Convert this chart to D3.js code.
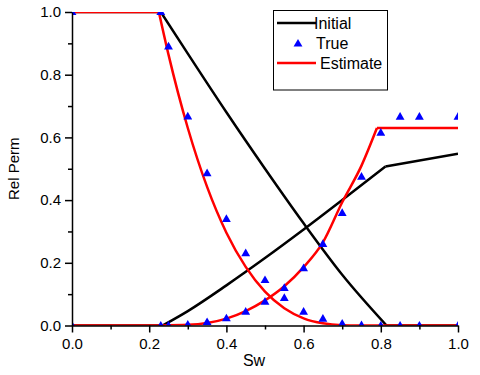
<!DOCTYPE html>
<html lang="en">
<head>
    <meta charset="UTF-8">
    <title>Rel Perm vs Sw</title>
    <script src="https://d3js.org/d3.v7.min.js"></script>
    <style>
        body { margin: 0; background: #fff; }
        svg { display: block; font-family: "Liberation Sans", Arial, sans-serif; }
        .axis path, .axis line { stroke: #000; stroke-width: 1.5px; }
        .axis text { font-family: "Liberation Sans", Arial, sans-serif; font-size: 15px; fill: #000; }
        .curve { fill: none; stroke-width: 2.5px; stroke-linejoin: round; }
        .legend text { font-size: 16px; }
    </style>
</head>
<body>
    <svg width="480" height="375"></svg>

    <script>
        // saturation grid of the "True" points
        var swTrue  = [0, 0.23, 0.25, 0.3, 0.35, 0.4, 0.45, 0.5, 0.55, 0.6, 0.65, 0.7, 0.75, 0.8, 0.85, 0.9, 1.0];
        var kroTrue = [1.0, 1.0, 0.89, 0.667, 0.486, 0.34, 0.231, 0.145, 0.088, 0.044, 0.022, 0.006, 0.001, 0, 0, 0, 0];
        var krwTrue = [0, 0, 0, 0.003, 0.011, 0.023, 0.044, 0.076, 0.12, 0.183, 0.26, 0.359, 0.475, 0.615, 0.666, 0.666, 0.666];

        // initial guess curves
        var swKroInit = [0, 0.23, 0.3, 0.4, 0.5, 0.6, 0.7, 0.815, 1.0];
        var kroInit   = [1.0, 1.0, 0.867, 0.68, 0.50, 0.326, 0.162, 0, 0];
        var swKrwInit = [0, 0.235, 0.3, 0.4, 0.5, 0.6, 0.7, 0.812, 1.0];
        var krwInit   = [0, 0, 0.046, 0.128, 0.215, 0.306, 0.40, 0.507, 0.548];

        // estimated curves
        var swKroEst = [0, 0.225, 0.25, 0.3, 0.35, 0.4, 0.45, 0.5, 0.55, 0.6, 0.65, 0.7, 0.75, 1.0];
        var kroEst   = [1.0, 1.0, 0.864, 0.63, 0.442, 0.296, 0.187, 0.108, 0.055, 0.023, 0.007, 0.001, 0, 0];
        var swKrwEst = [0, 0.23, 0.3, 0.35, 0.4, 0.45, 0.5, 0.55, 0.6, 0.65, 0.7, 0.75, 0.79, 1.0];
        var krwEst   = [0, 0, 0.002, 0.008, 0.022, 0.046, 0.08, 0.125, 0.186, 0.265, 0.393, 0.51, 0.63, 0.63];

        // kinks (endpoint saturations) where the curves are not smooth
        var kroInitKinks = [0.23, 0.815];
        var krwInitKinks = [0.235, 0.812];
        var kroEstKinks  = [0.225, 0.75];
        var krwEstKinks  = [0.23, 0.79];

        var xTicks = [0, 0.2, 0.4, 0.6, 0.8, 1.0];
        var yTicks = [0, 0.2, 0.4, 0.6, 0.8, 1.0];
        var minorTicks = [0.1, 0.3, 0.5, 0.7, 0.9];

        var plotLeft = 72, plotRight = 458, plotTop = 12, plotBottom = 325.5;

        var svg = d3.select("svg");

        var x = d3.scaleLinear().domain([0, 1]).range([plotLeft, plotRight]);
        var y = d3.scaleLinear().domain([0, 1]).range([plotBottom, plotTop]);

        svg.append("clipPath").attr("id", "plot")
           .append("rect")
           .attr("x", plotLeft).attr("y", plotTop)
           .attr("width", plotRight - plotLeft).attr("height", plotBottom - plotTop);

        var plot = svg.append("g").attr("clip-path", "url(#plot)");

        function zip(xs, ys) {
            return xs.map(function(v, i) { return [v, ys[i]]; });
        }

        var line = d3.line()
                     .x(function(d) { return x(d[0]); })
                     .y(function(d) { return y(d[1]); })
                     .curve(d3.curveMonotoneX);

        // split a curve at its kinks so each piece is smoothed on its own
        function drawCurve(xs, ys, kinks, color) {
            var d = zip(xs, ys);
            var cuts = [xs[0]].concat(kinks, [xs[xs.length - 1]]);
            for (var i = 0; i < cuts.length - 1; i++) {
                var piece = d.filter(function(p) { return p[0] >= cuts[i] && p[0] <= cuts[i + 1]; });
                plot.append("path").datum(piece).attr("class", "curve")
                    .attr("stroke", color).attr("d", line);
            }
        }

        drawCurve(swKroInit, kroInit, kroInitKinks, "#000");
        drawCurve(swKrwInit, krwInit, krwInitKinks, "#000");
        drawCurve(swKroEst, kroEst, kroEstKinks, "#ff0000");
        drawCurve(swKrwEst, krwEst, krwEstKinks, "#ff0000");

        var tri = d3.symbol().type(d3.symbolTriangle).size(34);
        var pts = zip(swTrue, kroTrue).concat(zip(swTrue, krwTrue));
        plot.selectAll(".pt").data(pts).enter()
            .append("path")
            .attr("class", "pt")
            .attr("d", tri)
            .attr("fill", "#0000ff")
            .attr("transform", function(d) { return "translate(" + x(d[0]) + "," + (y(d[1]) + 0.5) + ")"; });

        // axes
        svg.append("g").attr("class", "axis")
           .attr("transform", "translate(0," + plotBottom + ")")
           .call(d3.axisBottom(x).tickValues(xTicks).tickFormat(d3.format(".1f"))
                 .tickSize(7).tickSizeOuter(0).tickPadding(6));
        svg.append("g").attr("class", "axis")
           .attr("transform", "translate(0," + plotBottom + ")")
           .call(d3.axisBottom(x).tickValues(minorTicks).tickFormat("").tickSize(4).tickSizeOuter(0))
           .select(".domain").remove();

        svg.append("g").attr("class", "axis")
           .attr("transform", "translate(" + plotLeft + ",0)")
           .call(d3.axisLeft(y).tickValues(yTicks).tickFormat(d3.format(".1f"))
                 .tickSize(7).tickSizeOuter(0).tickPadding(4));
        svg.append("g").attr("class", "axis")
           .attr("transform", "translate(" + plotLeft + ",0)")
           .call(d3.axisLeft(y).tickValues(minorTicks).tickFormat("").tickSize(4).tickSizeOuter(0))
           .select(".domain").remove();

        svg.append("text")
           .attr("x", (plotLeft + plotRight) / 2 - 11).attr("y", 366)
           .attr("text-anchor", "middle")
           .style("font-size", "16px")
           .text("Sw");

        svg.append("text")
           .attr("transform", "translate(19," + ((plotTop + plotBottom) / 2) + ") rotate(-90)")
           .attr("text-anchor", "middle")
           .style("font-size", "15px")
           .text("Rel Perm");

        // legend
        var lg = svg.append("g").attr("class", "legend");
        lg.append("rect")
          .attr("x", 273.5).attr("y", 10.5).attr("width", 114).attr("height", 79.5)
          .attr("fill", "#fff").attr("stroke", "#000").attr("stroke-width", 1);
        lg.append("line").attr("x1", 277).attr("x2", 316).attr("y1", 23).attr("y2", 23)
          .attr("stroke", "#000").attr("stroke-width", 2.5);
        lg.append("text").attr("x", 314).attr("y", 28.5).text("Initial");
        lg.append("path").attr("d", tri).attr("fill", "#0000ff")
          .attr("transform", "translate(298,44)");
        lg.append("text").attr("x", 316).attr("y", 48.5).text("True");
        lg.append("line").attr("x1", 277).attr("x2", 316).attr("y1", 63).attr("y2", 63)
          .attr("stroke", "#ff0000").attr("stroke-width", 2.5);
        lg.append("text").attr("x", 320).attr("y", 68.5).text("Estimate");
    </script>
</body>
</html>
